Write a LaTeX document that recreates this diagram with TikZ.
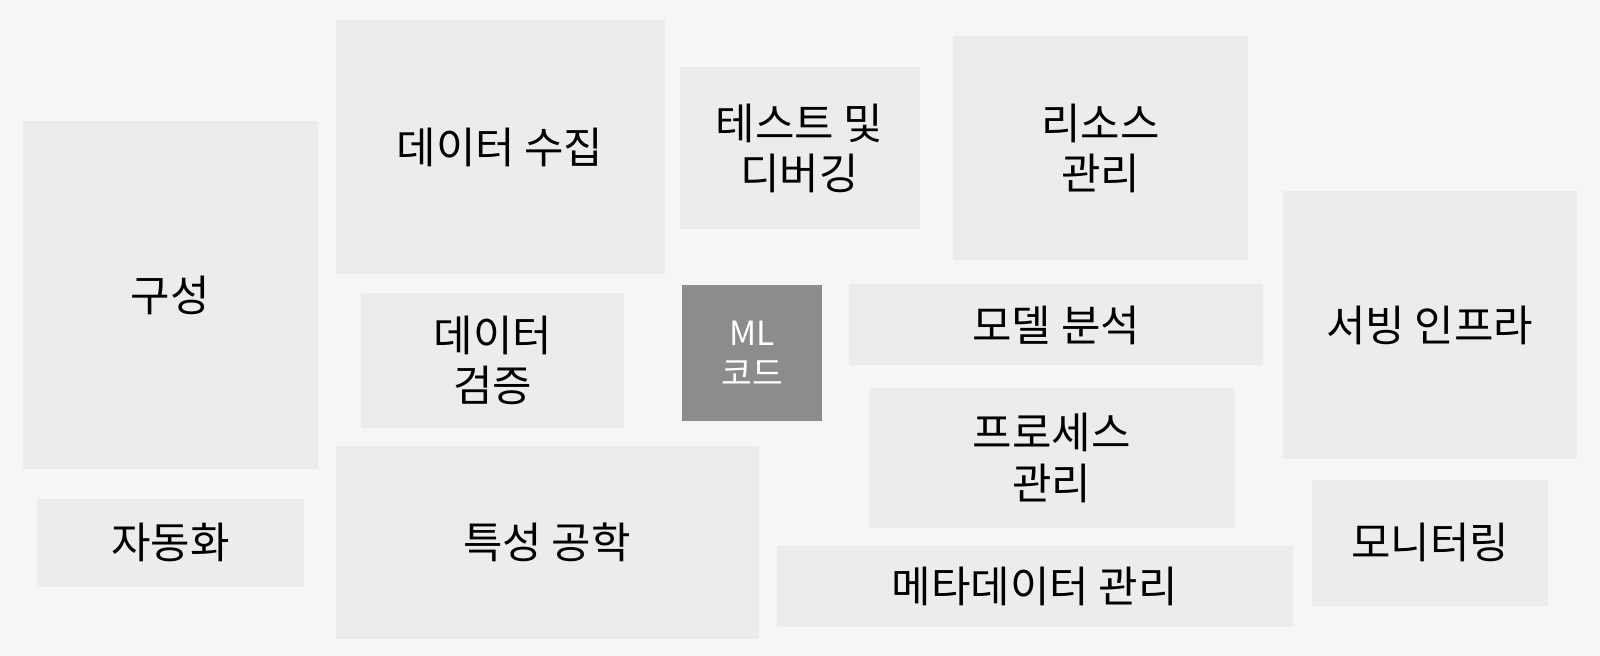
\documentclass[tikz,border=0pt]{standalone}
\usepackage{fontspec}
\setmainfont{Noto Sans CJK KR}
\usepackage{tikz}
\usetikzlibrary{positioning}
\definecolor{bgcol}{HTML}{F5F6F7}
\definecolor{boxcol}{HTML}{ECECEC}
\definecolor{mlcol}{HTML}{8C8C8C}
\tikzset{
	part/.style={rectangle, fill=boxcol, text=black, align=center, inner sep=0pt, font=\fontsize{12.2}{14.4}\selectfont},
	mlcode/.style={rectangle, fill=mlcol, text=white, align=center, inner sep=0pt, font=\fontsize{9.5}{11.4}\selectfont}
}

\begin{document}
\begin{tikzpicture}
		% Fundo
		\fill[bgcol] (0,0) rectangle (16,6.56);
		\useasboundingbox (0,0) rectangle (16,6.56);
		
		% Coluna da esquerda
		\node[part, minimum width=2.95cm, minimum height=3.48cm] (config) at (1.70,3.606) {구성};
		\node[part, minimum width=2.67cm, minimum height=0.88cm] (auto) at (1.704,1.131) {자동화};
		
		% Dados
		\node[part, minimum width=3.29cm, minimum height=2.54cm] (collect) at (5.00,5.085) {데이터 수집};
		\node[part, minimum width=2.63cm, minimum height=1.35cm] (verify) at (4.929,2.957) {데이터\\검증};
		\node[part, minimum width=4.23cm, minimum height=1.93cm] (feature) at (5.47,1.136) {특성 공학};
		
		% Centro
		\node[part, minimum width=2.40cm, minimum height=1.62cm] (test) at (7.995,5.075) {테스트 및\\디버깅};
		\node[mlcode, minimum width=1.40cm, minimum height=1.36cm] (ml) at (7.52,3.03) {ML\\코드};
		\node[part, minimum width=2.95cm, minimum height=2.24cm] (resource) at (11.006,5.075) {리소스\\관리};
		\node[part, minimum width=4.14cm, minimum height=0.81cm] (analysis) at (10.562,3.31) {모델 분석};
		\node[part, minimum width=3.66cm, minimum height=1.40cm] (process) at (10.516,1.983) {프로세스\\관리};
		\node[part, minimum width=5.16cm, minimum height=0.81cm] (meta) at (10.347,0.698) {메타데이터 관리};
		
		% Coluna da direita
		\node[part, minimum width=2.94cm, minimum height=2.68cm] (serving) at (14.296,3.31) {서빙 인프라};
		\node[part, minimum width=2.36cm, minimum height=1.26cm] (monitor) at (14.301,1.131) {모니터링};
		
	\end{tikzpicture}
\end{document}
